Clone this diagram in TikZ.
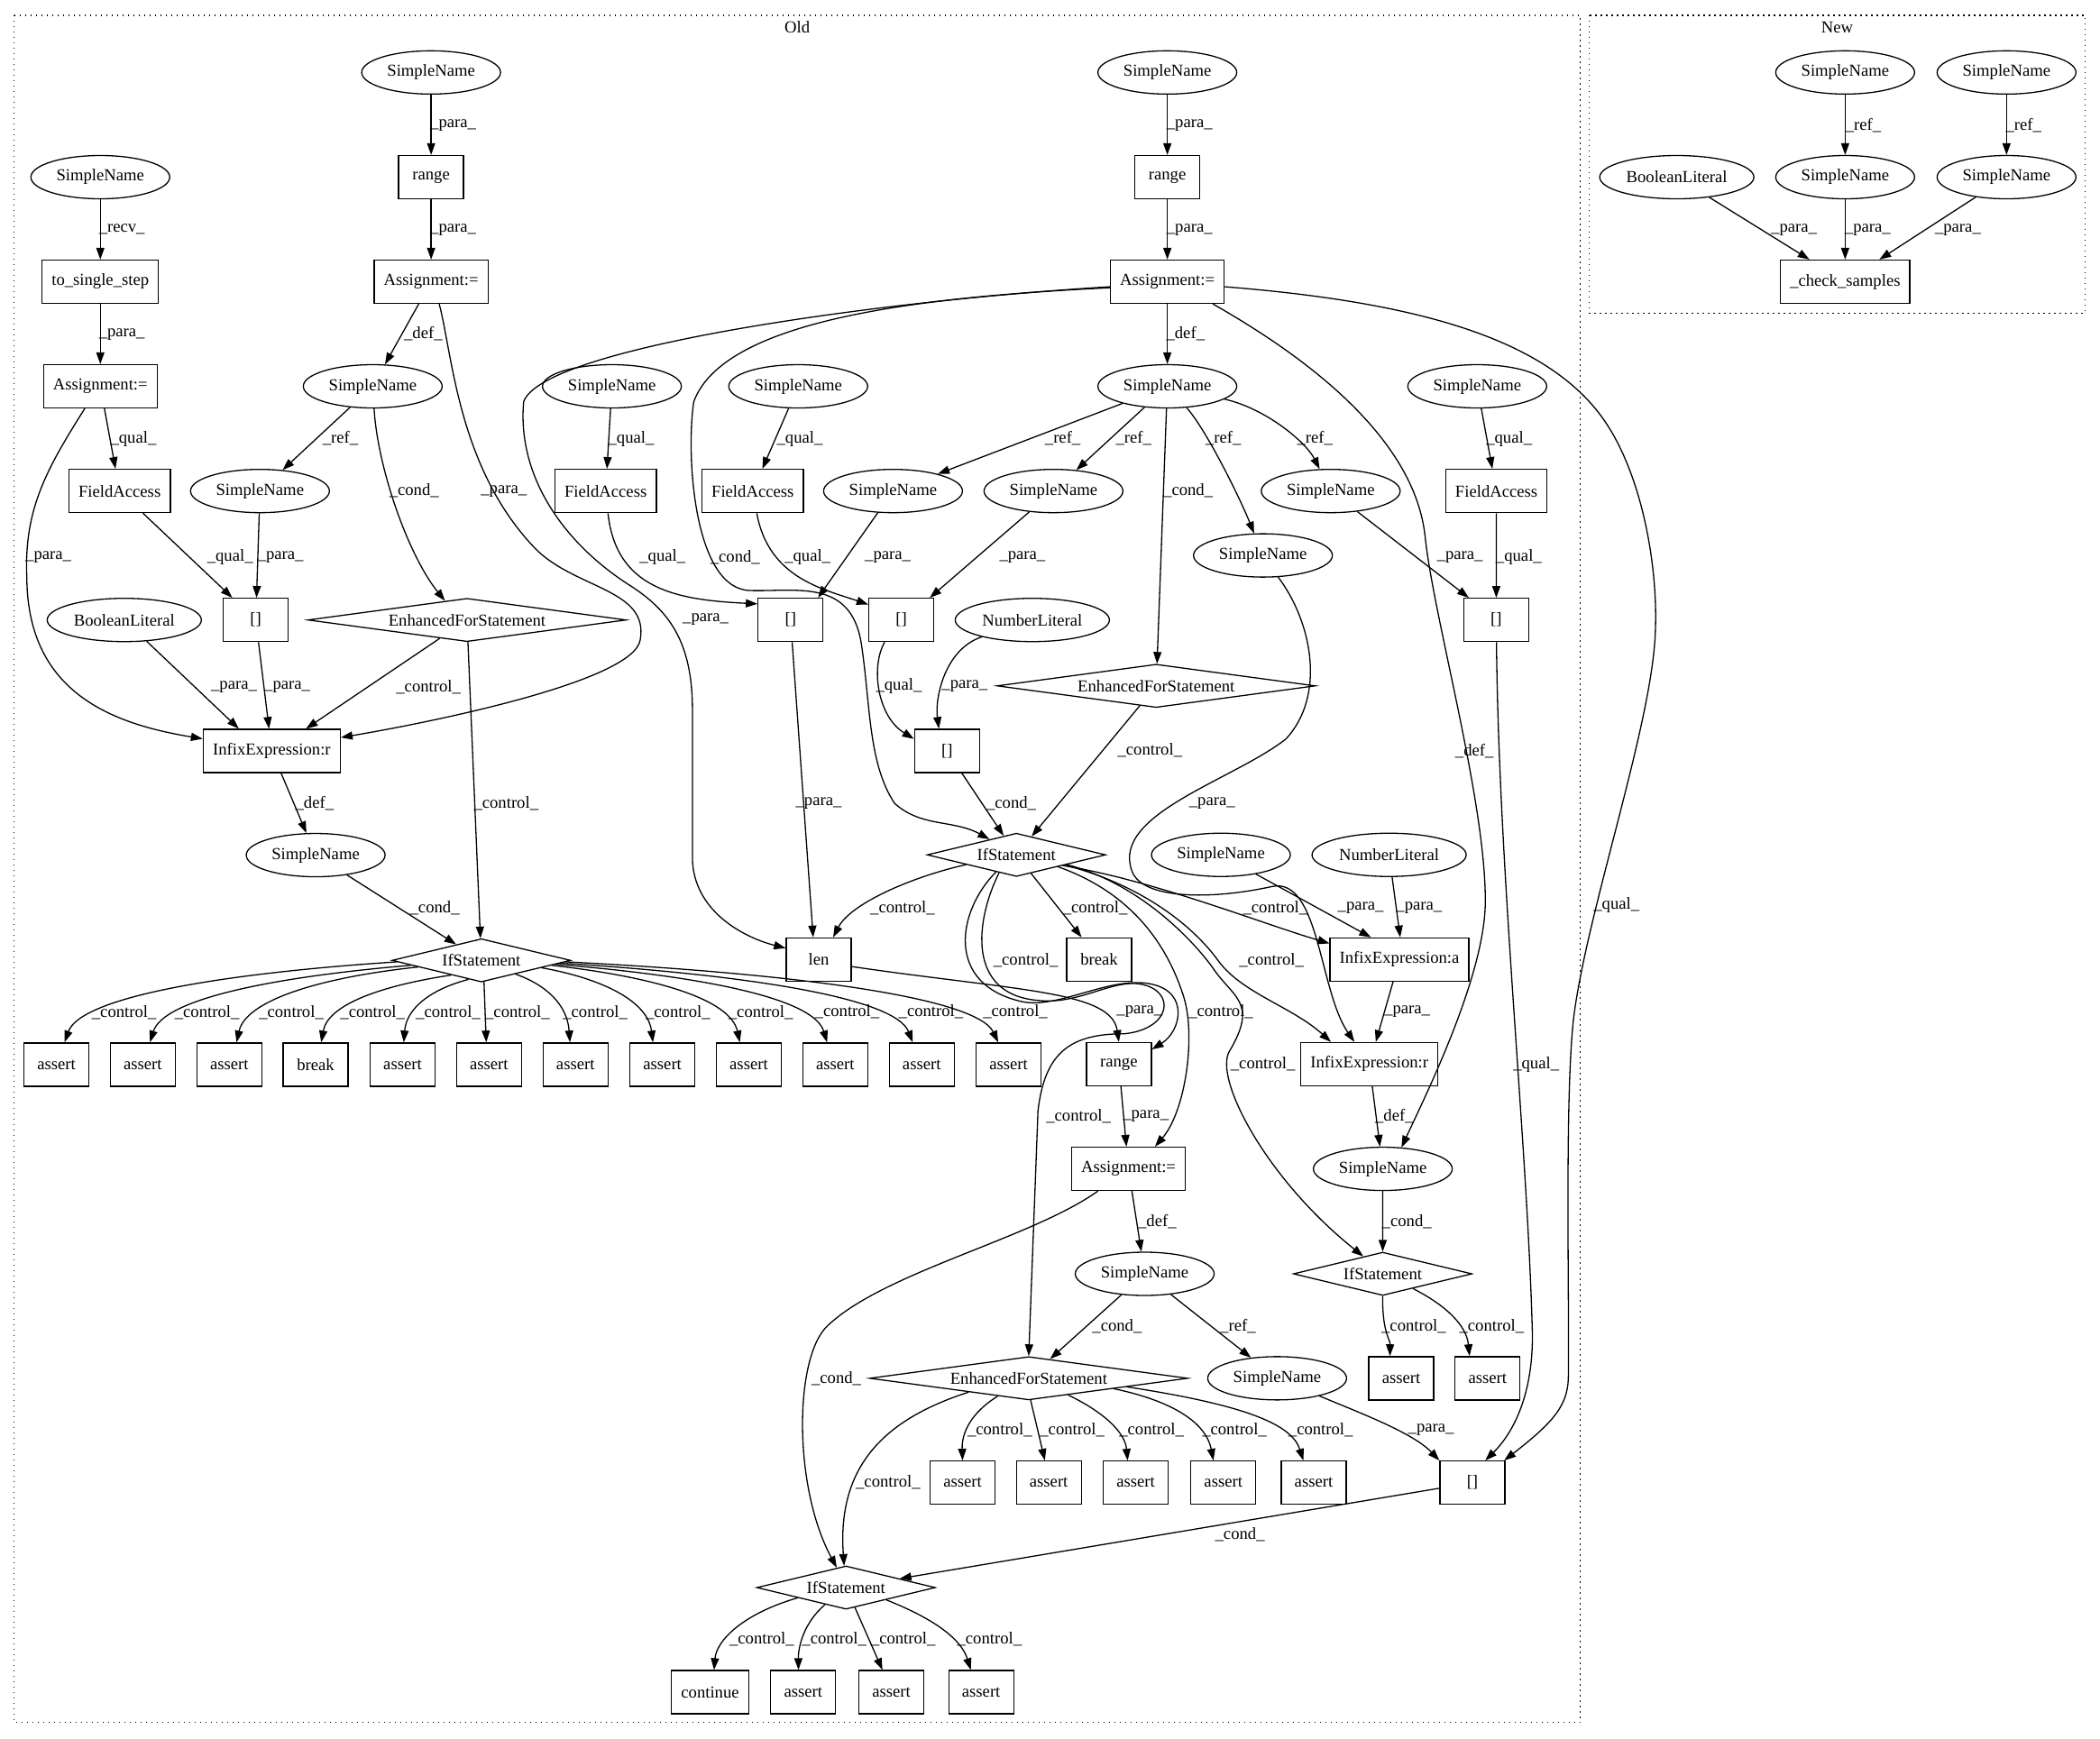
\documentclass[tikz,border=0pt]{standalone}
\usepackage{fontspec}
\setmainfont{Liberation Serif}
\usetikzlibrary{shapes.geometric,arrows.meta}
\newcommand\gvf{\fontsize{18.67pt}{22pt}\selectfont}
\newcounter{lbc}
\newcommand\elab[3]{\stepcounter{lbc}\node[lab] (lb\thelbc) at (#1,#2) {\_#3\_};}
\tikzset{
 every node/.style={font=\gvf},
 box/.style={draw, rectangle, line width=1.3pt, minimum width=72pt, minimum height=48pt, inner xsep=10.6pt, inner ysep=0pt},
 ell/.style={draw, ellipse, line width=1.3pt, minimum width=154pt, minimum height=48pt, inner sep=0pt},
 lit/.style={ell, minimum width=171pt},
 efsd/.style={draw, diamond, line width=1.3pt, minimum width=353pt, minimum height=48pt, inner sep=0pt, shape aspect=7.35},
 ifsd/.style={draw, diamond, line width=1.3pt, minimum width=198pt, minimum height=48pt, inner sep=0pt, shape aspect=4.1},
 lab/.style={inner sep=0pt},
 ed/.style={draw, line width=1.3pt, -{Triangle[length=13pt,width=9pt]}},
 clus/.style={draw, line width=1.4pt, dash pattern=on 1.4pt off 4.6pt},
}
\begin{document}
\begin{tikzpicture}[x=1.4853pt,y=-1.4853pt]
\useasboundingbox (0,0) rectangle (1568,1298.1);
% clusters
\draw[clus] (10.3,11.4) rectangle (1180,1286.3);
\node[lab] (oldlab) at (595.3,20.4) {Old};
\draw[clus] (1186.7,11.4) rectangle (1556.8,233.8);
\node[lab] (newlab) at (1371.7,20.4) {New};
% ---------- Old nodes
\node[ell] (sa) at (74.9,132.3) {SimpleName};
\node[box] (tss) at (74.9,210.4) {to\_single\_step};
\node[box] (as1) at (74.9,288.5) {Assignment:=};
\node[box] (fa1) at (89.3,366.7) {FieldAccess};
\node[ell] (sb) at (321.9,54.1) {SimpleName};
\node[box] (rg1) at (321.9,132.3) {range};
\node[box] (as2) at (321.9,210.4) {Assignment:=};
\node[ell] (sc) at (278.3,288.5) {SimpleName};
\node[ell] (sd) at (194.1,366.7) {SimpleName};
\node[lit] (bl1) at (92.8,463) {BooleanLiteral};
\node[box] (br1) at (191,463) {[]};
\node[efsd] (efs1) at (348.7,463) {EnhancedForStatement};
\node[box] (ir1) at (202.9,560.8) {InfixExpression:r};
\node[ell] (sdef) at (235.7,638.6) {SimpleName};
\node[ifsd] (if1) at (359.4,717.2) {IfStatement};
\node[box] (c1) at (42.1,795) {assert};
\node[box] (c2) at (106.6,795) {assert};
\node[box] (c3) at (171.2,795) {assert};
\node[box] (c4) at (235.7,795) {break};
\node[box] (c5) at (300.6,795) {assert};
\node[box] (c6) at (365.1,795) {assert};
\node[box] (c7) at (429.7,795) {assert};
\node[box] (c8) at (494.6,795) {assert};
\node[box] (c9) at (559.1,795) {assert};
\node[box] (c10) at (623.6,795) {assert};
\node[box] (c11) at (688.2,795) {assert};
\node[box] (c12) at (753.1,795) {assert};
\node[ell] (se) at (871.6,54.1) {SimpleName};
\node[box] (rg2) at (871.6,132.3) {range};
\node[box] (as3) at (871.6,210.4) {Assignment:=};
\node[ell] (sf) at (871.6,288.5) {SimpleName};
\node[ell] (sg) at (456.9,288.5) {SimpleName};
\node[box] (fa2) at (452.2,366.7) {FieldAccess};
\node[ell] (sh) at (596,288.5) {SimpleName};
\node[box] (fa3) at (562,366.7) {FieldAccess};
\node[ell] (si) at (666.8,366.7) {SimpleName};
\node[ell] (sj) at (786.6,366.7) {SimpleName};
\node[ell] (sk) at (943,414.8) {SimpleName};
\node[ell] (sl) at (993.6,366.7) {SimpleName};
\node[ell] (sm) at (1103,288.5) {SimpleName};
\node[box] (fa4) at (1117.3,366.7) {FieldAccess};
\node[box] (br2) at (590.3,463) {[]};
\node[box] (br3) at (673,463) {[]};
\node[lit] (nl1) at (770.8,463) {NumberLiteral};
\node[box] (br4) at (1117.2,463) {[]};
\node[efsd] (efs2) at (863.3,512.2) {EnhancedForStatement};
\node[box] (br5) at (707.1,560.8) {[]};
\node[ifsd] (if2) at (758.9,638.4) {IfStatement};
\node[ell] (sn) at (911.6,638.4) {SimpleName};
\node[lit] (nl2) at (1037.2,638.4) {NumberLiteral};
\node[box] (len) at (611.3,716.6) {len};
\node[box] (brk2) at (820.7,716.6) {break};
\node[box] (ia) at (1044.9,716.6) {InfixExpression:a};
\node[box] (rg3) at (835.4,794.7) {range};
\node[box] (ir2) at (1022.5,794.7) {InfixExpression:r};
\node[box] (as4) at (842.6,872.9) {Assignment:=};
\node[ell] (so) at (1032.5,872.9) {SimpleName};
\node[ifsd] (if3) at (1032.4,951.3) {IfStatement};
\node[ell] (sp) at (854.7,951.3) {SimpleName};
\node[efsd] (efs3) at (768.1,1029.3) {EnhancedForStatement};
\node[ell] (sq) at (953.6,1029.3) {SimpleName};
\node[box] (d1) at (1046.3,1029.3) {assert};
\node[box] (d2) at (1110.7,1029.3) {assert};
\node[box] (f1) at (718.7,1107.3) {assert};
\node[box] (f2) at (783.1,1107.3) {assert};
\node[box] (f3) at (848,1107.3) {assert};
\node[box] (f4) at (913.4,1107.3) {assert};
\node[box] (f5) at (980.9,1107.3) {assert};
\node[box] (br6) at (1099.4,1107.3) {[]};
\node[ifsd] (if4) at (631.7,1185.6) {IfStatement};
\node[box] (g1) at (530.2,1263.7) {continue};
\node[box] (g2) at (599.7,1263.7) {assert};
\node[box] (g3) at (665.6,1263.7) {assert};
\node[box] (g4) at (732.6,1263.7) {assert};
% ---------- New nodes
\node[ell] (nsa) at (1377.7,54.1) {SimpleName};
\node[ell] (nsb) at (1498.2,54.1) {SimpleName};
\node[lit] (nbl) at (1252,132.3) {BooleanLiteral};
\node[ell] (nsc) at (1377.7,132.3) {SimpleName};
\node[ell] (nsd) at (1498.2,132.3) {SimpleName};
\node[box] (cs) at (1377.7,210.4) {\_check\_samples};
% ---------- Old edges
\draw[ed] (sa) -- (tss); \elab{91}{171.3}{recv}
\draw[ed] (tss) -- (as1); \elab{91}{249.5}{para}
\draw[ed] (as1) -- (fa1); \elab{99.6}{327.6}{qual}
\draw[ed] (as1.235) .. controls (35,350) and (18,380) .. (20,430) .. controls (20,515) and (80,540) .. (ir1.170); \elab{36.1}{416.3}{para}
\draw[ed] (fa1) -- (br1); \elab{171.8}{416.3}{qual}
\draw[ed] (sd) -- (br1); \elab{209.5}{416.3}{para}
\draw[ed] (bl1) -- (ir1.146); \elab{174.7}{512.9}{para}
\draw[ed] (br1) -- (ir1); \elab{214.5}{512.9}{para}
\draw[ed] (efs1) -- (ir1.33); \elab{319.9}{512.9}{control}
\draw[ed] (as2.-70) .. controls (338,265) and (342,350) .. (400,410) .. controls (430,440) and (485,440) .. (478,478) .. controls (473,508) and (330,538) .. (ir1.11); \elab{376.2}{366.7}{para}
\draw[ed] (as2) -- (sc); \elab{316}{249.5}{def}
\draw[ed] (sc) -- (sd); \elab{254.2}{327.6}{ref}
\draw[ed] (sc) .. controls (282,350) and (305,415) .. (efs1.139); \elab{309.2}{366.7}{cond}
\draw[ed] (efs1) -- (if1); \elab{377.9}{600}{control}
\draw[ed] (ir1) -- (sdef); \elab{234.9}{600}{def}
\draw[ed] (sdef) -- (if1); \elab{324.6}{677.8}{cond}
% if1 children
\draw[ed] (if1.181) .. controls +(-137,9) and +(12,-33) .. (c1.70);
\draw[ed] (if1.184) .. controls +(-106,9) and +(10,-32) .. (c2.72);
\draw[ed] (if1.186) .. controls +(-75,8) and +(7,-31) .. (c3.72);
\draw[ed] (if1.206) .. controls +(-53,8) and +(5,-28) .. (c4.76);
\draw[ed] (if1.236) .. controls +(-27,7) and +(2,-26) .. (c5.87);
\draw[ed] (if1.277) -- (c6.97);
\draw[ed] (if1.338) .. controls +(23,8) and +(-2,-28) .. (c7.104);
\draw[ed] (if1.-7) .. controls +(45,8) and +(-4,-31) .. (c8.113);
\draw[ed] (if1.-4) .. controls +(79,9) and +(-7,-32) .. (c9.112);
\draw[ed] (if1.-3) .. controls +(110,9) and +(-10,-33) .. (c10.110);
\draw[ed] (if1.-2) .. controls +(143,9) and +(-13,-33) .. (c11.112);
\draw[ed] (if1.-1) .. controls +(177,9) and +(-16,-33) .. (c12.115);
\elab{92.7}{756.3}{control}\elab{154.6}{756.3}{control}\elab{217.5}{756.3}{control}
\elab{278.2}{756.3}{control}\elab{334.6}{756.3}{control}\elab{386.4}{756.3}{control}
\elab{444.4}{756.3}{control}\elab{506.2}{756.3}{control}\elab{568}{756.3}{control}
\elab{632.5}{755.6}{control}\elab{695.1}{755.6}{control}\elab{758.1}{755.6}{control}
% middle top
\draw[ed] (sb) -- (rg1); \elab{338.4}{93.8}{para}
\draw[ed] (rg1) -- (as2); \elab{338.4}{171.9}{para}
\draw[ed] (se) -- (rg2); \elab{888.2}{93.8}{para}
\draw[ed] (rg2) -- (as3); \elab{888.2}{171.9}{para}
\draw[ed] (as3) -- (sf); \elab{885.2}{249.5}{def}
\draw[ed] (as3.185) .. controls (650,225) and (405,260) .. (391,300) .. controls (386,355) and (420,405) .. (470,437) .. controls (500,456) and (517,480) .. (517,530) -- (517,640) .. controls (517,680) and (555,700) .. (len.161); \elab{526.9}{462.9}{para}
\draw[ed] (as3.186) .. controls (680,222) and (540,240) .. (518,300) .. controls (512,340) and (518,440) .. (560,441) .. controls (595,442) and (635,432) .. (643,480) .. controls (650,525) and (648,570) .. (668,600) .. controls (688,618) and (712,612) .. (if2.150); \elab{548.9}{416.3}{cond}
\draw[ed] (as3.-5) .. controls (1050,225) and (1150,250) .. (1195,310) .. controls (1225,350) and (1238,420) .. (1236,471) .. controls (1234,540) and (1185,680) .. (1175,760) .. controls (1168,820) and (1172,980) .. (1171,1030) .. controls (1170,1050) and (1160,1062) .. (br6.35); \elab{1207}{676}{qual}
\draw[ed] (as3.-26) .. controls (960,258) and (1055,320) .. (1064,400) .. controls (1070,460) and (1110,600) .. (1109,675) .. controls (1108,730) and (1065,817) .. (so.49); \elab{1100.9}{560.8}{def}
\draw[ed] (sf) -- (si); \elab{793.5}{327.6}{ref}
\draw[ed] (sf) -- (sj); \elab{846.5}{327.6}{ref}
\draw[ed] (sf) .. controls (900,320) and (925,370) .. (sk); \elab{913.4}{327.6}{ref}
\draw[ed] (sf) .. controls (945,305) and (975,330) .. (sl); \elab{981.8}{327.6}{ref}
\draw[ed] (sf) -- (efs2); \elab{887.1}{366.7}{cond}
\draw[ed] (sg) -- (fa2); \elab{471.3}{327.6}{qual}
\draw[ed] (fa2) .. controls (460,440) and (505,448) .. (br2.154); \elab{494.7}{416.3}{qual}
\draw[ed] (sh) -- (fa3); \elab{597.2}{327.6}{qual}
\draw[ed] (fa3) .. controls (574,432) and (615,440) .. (br3.155); \elab{603}{416.3}{qual}
\draw[ed] (si) -- (br2.39); \elab{662.9}{416.3}{para}
\draw[ed] (sj) -- (br3.38); \elab{763.4}{416.3}{para}
\draw[ed] (sl) -- (br4.141); \elab{1090.1}{416.3}{para}
\draw[ed] (sm) -- (fa4); \elab{1126.8}{327.6}{qual}
\draw[ed] (fa4) -- (br4); \elab{1134}{416.3}{qual}
\draw[ed] (br4) .. controls (1119,650) and (1140,850) .. (1144,990) .. controls (1146,1040) and (1130,1070) .. (br6.60); \elab{1147}{795}{qual}
\draw[ed] (nl1) .. controls (705,485) and (698,522) .. (br5.110); \elab{720.3}{512.2}{para}
\draw[ed] (br3.233) .. controls (650,498) and (655,535) .. (br5.160); \elab{671.2}{512.2}{qual}
\draw[ed] (br2) -- (len.104); \elab{611.3}{600}{para}
\draw[ed] (br5) -- (if2); \elab{755.1}{600}{cond}
\draw[ed] (efs2) -- (if2); \elab{858.6}{560.3}{control}
% if2 children
\draw[ed] (if2.191) .. controls (680,655) and (635,675) .. (len.57); \elab{673.9}{678}{control}
\draw[ed] (if2) -- (brk2); \elab{817.7}{678}{control}
\draw[ed] (if2.347) .. controls (860,657) and (943,690) .. (ia.167); \elab{952.2}{678}{control}
\draw[ed] (if2.348) .. controls (850,660) and (890,690) .. (910,718) .. controls (928,742) and (965,752) .. (ir2.150); \elab{949.4}{717.2}{control}
\draw[ed] (if2.344) .. controls (840,665) and (870,700) .. (884,745) .. controls (893,775) and (885,830) .. (as4.40); \elab{911.6}{755.6}{control}
\draw[ed] (if2.349) .. controls (845,658) and (885,695) .. (905,722) .. controls (920,745) and (940,748) .. (918,785) .. controls (906,805) and (945,880) .. (if3.138); \elab{943}{794.7}{control}
\draw[ed] (if2.220) .. controls (715,680) and (705,735) .. (763,748) .. controls (790,754) and (830,728) .. (860,735) .. controls (888,741) and (882,770) .. (rg3.24); \elab{765.9}{717.2}{control}
\draw[ed] (if2.226) .. controls (728,688) and (722,742) .. (774,747) .. controls (805,751) and (830,731) .. (852,735) .. controls (878,740) and (875,768) .. (840,772) .. controls (800,772) and (780,785) .. (775,830) -- (efs3.north); \elab{805.3}{833.8}{control}
\draw[ed] (len.-12) .. controls (760,740) and (830,740) .. (rg3.north); \elab{850.9}{755.6}{para}
\draw[ed] (sn) -- (ia.142); \elab{1016}{678}{para}
\draw[ed] (nl2) -- (ia.88); \elab{1059.6}{678}{para}
\draw[ed] (ia) -- (ir2); \elab{1050.7}{755.6}{para}
\draw[ed] (sk.-55) .. controls (980,465) and (990,520) .. (960,552) .. controls (920,583) and (830,608) .. (845,650) .. controls (852,672) and (905,672) .. (950,662) .. controls (985,655) and (985,740) .. (ir2.124); \elab{905}{600}{para}
\draw[ed] (rg3) -- (as4); \elab{855.5}{833.8}{para}
\draw[ed] (ir2) -- (so); \elab{1041.1}{833.8}{def}
\draw[ed] (as4) -- (sp); \elab{864}{912.3}{def}
\draw[ed] (as4.216) .. controls (770,925) and (660,950) .. (618,990) .. controls (593,1013) and (592,1110) .. (if4.115); \elab{624.5}{1029.3}{cond}
\draw[ed] (sp) -- (efs3); \elab{834.1}{990.6}{cond}
\draw[ed] (sp) -- (sq); \elab{924.3}{990.6}{ref}
\draw[ed] (so) -- (if3); \elab{1050.4}{912.3}{cond}
\draw[ed] (if3.south) .. controls (1032,995) and (1038,1000) .. (d1.117); \elab{1055.6}{990.6}{control}
\draw[ed] (if3.334) .. controls (1080,975) and (1095,990) .. (d2.129); \elab{1113.8}{990.6}{control}
\draw[ed] (sq) .. controls (1015,1055) and (1055,1070) .. (br6.north west); \elab{1068.5}{1068.1}{para}
% efs3 children
\draw[ed] (efs3.210) .. controls (725,1055) and (718,1070) .. (f1.north);
\draw[ed] (efs3.-85) -- (f2.100);
\draw[ed] (efs3.337) .. controls (825,1055) and (840,1070) .. (f3.110);
\draw[ed] (efs3.353) .. controls (870,1045) and (900,1060) .. (f4.114);
\draw[ed] (efs3.355) .. controls (935,1050) and (965,1065) .. (f5.115);
\elab{746.5}{1068.1}{control}\elab{800.6}{1068.1}{control}\elab{859.8}{1068.1}{control}
\elab{921.7}{1068.1}{control}\elab{986.1}{1068.1}{control}
\draw[ed] (efs3.193) .. controls (660,1060) and (625,1095) .. (if4.95); \elab{663.1}{1107.3}{control}
\draw[ed] (br6) -- (if4); \elab{925.8}{1145.8}{cond}
% if4 children
\draw[ed] (if4.192) .. controls (555,1205) and (535,1225) .. (g1.80);
\draw[ed] (if4.219) .. controls (600,1212) and (596,1230) .. (g2.102);
\draw[ed] (if4.-66) -- (g3.112);
\draw[ed] (if4.343) .. controls (700,1210) and (718,1225) .. (g4.115);
\elab{568.8}{1224.3}{control}\elab{622.9}{1224.3}{control}
\elab{674.4}{1224.3}{control}\elab{738.8}{1224.3}{control}
% ---------- New edges
\draw[ed] (nsa) -- (nsc); \elab{1391.3}{93.8}{ref}
\draw[ed] (nsb) -- (nsd); \elab{1510.9}{93.8}{ref}
\draw[ed] (nbl) -- (cs); \elab{1339.5}{171.9}{para}
\draw[ed] (nsc) -- (cs); \elab{1394.5}{171.9}{para}
\draw[ed] (nsd) -- (cs); \elab{1461.9}{171.9}{para}
\end{tikzpicture}
\end{document}
